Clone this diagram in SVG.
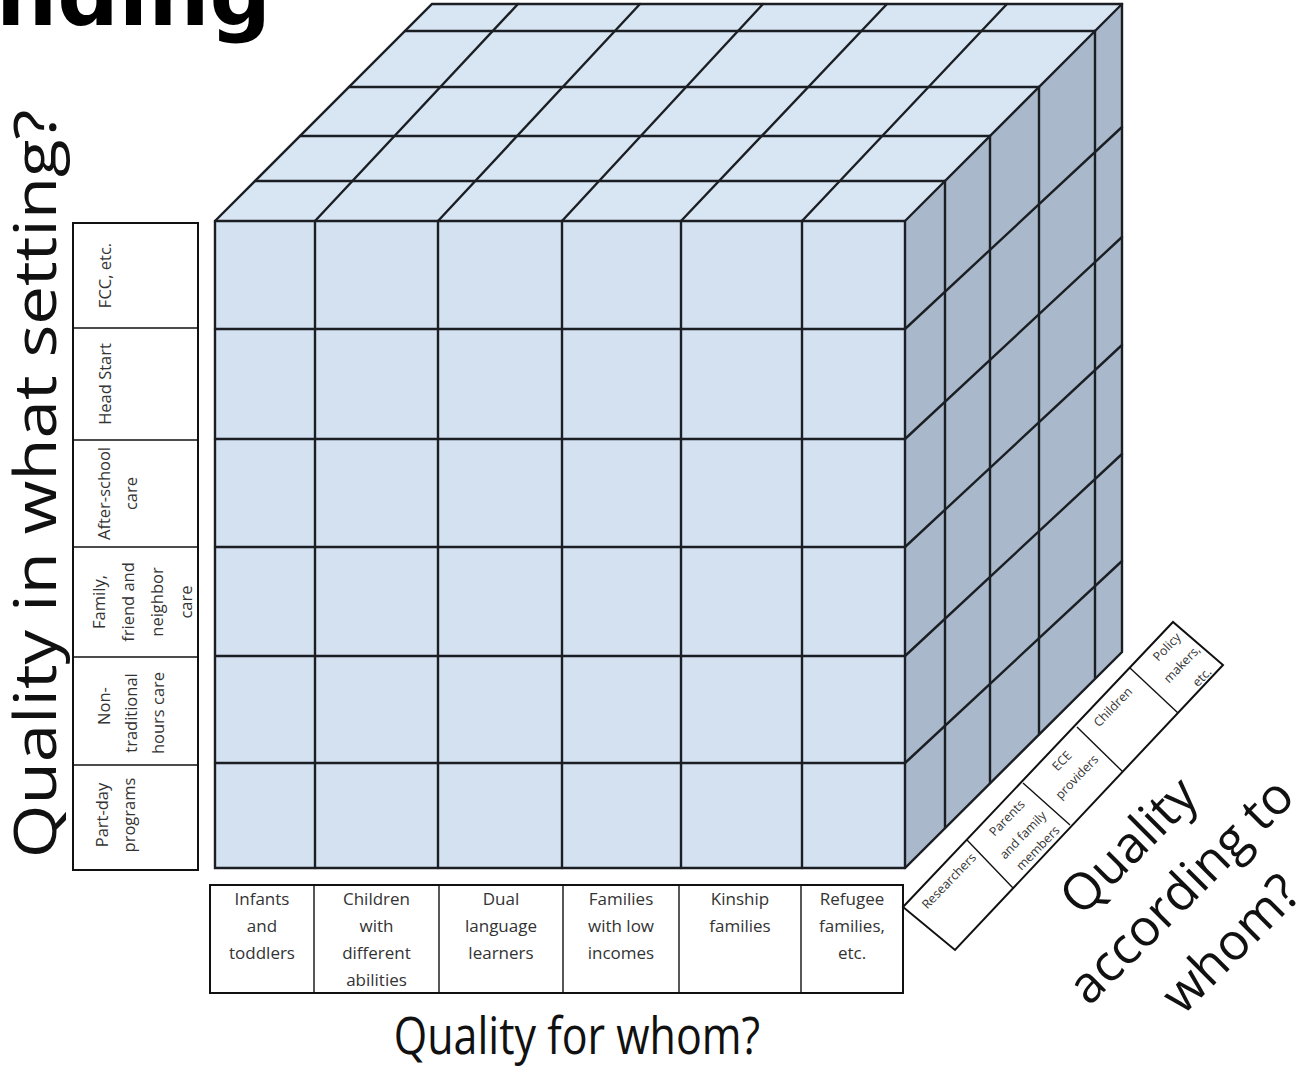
<svg xmlns="http://www.w3.org/2000/svg" width="1299" height="1081" viewBox="0 0 1299 1081">
<style>
.ln{stroke:#1b1f24;stroke-width:2.4;fill:none;stroke-linecap:round}
.box{stroke:#111;stroke-width:2;fill:#fff}
.thin{stroke:#111;stroke-width:1.4;fill:none}
.lbl{font-family:"Open Sans","Noto Sans",sans-serif;font-size:17px;fill:#333;text-anchor:middle}
.vl{font-family:"Open Sans","Noto Sans",sans-serif;font-size:16.5px;fill:#333;text-anchor:middle}
.sl{font-family:"Open Sans","Noto Sans",sans-serif;font-size:12.5px;fill:#333;text-anchor:middle}
.big{font-family:"Open Sans","Noto Sans",sans-serif;fill:#111;text-anchor:middle}
</style>
<rect width="1299" height="1081" fill="#fff"/>
<g id="title"><text x="-4" y="25" font-family="DejaVu Sans" font-weight="bold" font-size="86" fill="#000">nding</text></g>
<g id="cube">
<polygon points="215,221 905,221 1122,4 432,4" fill="#d8e5f3"/>
<polygon points="905,221 1122,4 1122,652 905,868" fill="#a9b8ca"/>
<rect x="215" y="221" width="690" height="647" fill="#d3e1f1"/>
<g class="ln">
<line x1="315" y1="221" x2="315" y2="868"/><line x1="438" y1="221" x2="438" y2="868"/><line x1="562" y1="221" x2="562" y2="868"/><line x1="681" y1="221" x2="681" y2="868"/><line x1="802" y1="221" x2="802" y2="868"/>
<line x1="215" y1="329" x2="905" y2="329"/><line x1="215" y1="439" x2="905" y2="439"/><line x1="215" y1="547" x2="905" y2="547"/><line x1="215" y1="656" x2="905" y2="656"/><line x1="215" y1="763" x2="905" y2="763"/>
<line x1="255" y1="181" x2="945" y2="181"/><line x1="300" y1="136" x2="990" y2="136"/><line x1="349" y1="87" x2="1039" y2="87"/><line x1="405" y1="31" x2="1095" y2="31"/>
<line x1="315" y1="221" x2="518" y2="4"/><line x1="438" y1="221" x2="640" y2="4"/><line x1="562" y1="221" x2="763" y2="4"/><line x1="681" y1="221" x2="887" y2="4"/><line x1="802" y1="221" x2="1007" y2="4"/>
<line x1="945" y1="181" x2="945" y2="828"/><line x1="990" y1="136" x2="990" y2="783"/><line x1="1039" y1="87" x2="1039" y2="734"/><line x1="1095" y1="31" x2="1095" y2="678"/>
<line x1="905" y1="329" x2="1122" y2="127"/><line x1="905" y1="439" x2="1122" y2="237"/><line x1="905" y1="547" x2="1122" y2="345"/><line x1="905" y1="656" x2="1122" y2="454"/><line x1="905" y1="763" x2="1122" y2="561"/>
<polygon points="215,221 432,4 1122,4 1122,652 905,868 215,868"/>
<polyline points="215,221 905,221 905,868"/><line x1="905" y1="221" x2="1122" y2="4"/>
</g>
</g>
<g id="setting-labels">
<rect class="box" x="73" y="223" width="125" height="647"/>
<g class="thin"><line x1="73" y1="328" x2="198" y2="328"/><line x1="73" y1="440" x2="198" y2="440"/><line x1="73" y1="547" x2="198" y2="547"/><line x1="73" y1="657" x2="198" y2="657"/><line x1="73" y1="765" x2="198" y2="765"/></g>
<g id="s-fcc"><text class="vl" transform="translate(111,275.5) rotate(-90)">FCC, etc.</text></g>
<g id="s-headstart"><text class="vl" transform="translate(111,384) rotate(-90)">Head Start</text></g>
<g id="s-afterschool"><text class="vl" transform="translate(110,493.5) rotate(-90)">After-school</text><text class="vl" transform="translate(137,493.5) rotate(-90)">care</text></g>
<g id="s-ffn"><text class="vl" transform="translate(105,602) rotate(-90)">Family,</text><text class="vl" transform="translate(134,602) rotate(-90)">friend and</text><text class="vl" transform="translate(163,602) rotate(-90)">neighbor</text><text class="vl" transform="translate(192,602) rotate(-90)">care</text></g>
<g id="s-nontrad"><text class="vl" transform="translate(110,706) rotate(-90)">Non-</text><text class="vl" transform="translate(137,713) rotate(-90)">traditional</text><text class="vl" transform="translate(164,713) rotate(-90)">hours care</text></g>
<g id="s-partday"><text class="vl" transform="translate(108,815) rotate(-90)">Part-day</text><text class="vl" transform="translate(135,815) rotate(-90)">programs</text></g>
</g>
<g id="whom-labels">
<rect class="box" x="210" y="885" width="693" height="108"/>
<g class="thin"><line x1="314" y1="885" x2="314" y2="993"/><line x1="439" y1="885" x2="439" y2="993"/><line x1="563" y1="885" x2="563" y2="993"/><line x1="679" y1="885" x2="679" y2="993"/><line x1="801" y1="885" x2="801" y2="993"/></g>
<g id="w-infants"><text class="lbl" x="262" y="905">Infants</text><text class="lbl" x="262" y="932">and</text><text class="lbl" x="262" y="959">toddlers</text></g>
<g id="w-abilities"><text class="lbl" x="376.5" y="905">Children</text><text class="lbl" x="376.5" y="932">with</text><text class="lbl" x="376.5" y="959">different</text><text class="lbl" x="376.5" y="986">abilities</text></g>
<g id="w-dll"><text class="lbl" x="501" y="905">Dual</text><text class="lbl" x="501" y="932">language</text><text class="lbl" x="501" y="959">learners</text></g>
<g id="w-lowinc"><text class="lbl" x="621" y="905">Families</text><text class="lbl" x="621" y="932">with low</text><text class="lbl" x="621" y="959">incomes</text></g>
<g id="w-kinship"><text class="lbl" x="740" y="905">Kinship</text><text class="lbl" x="740" y="932">families</text></g>
<g id="w-refugee"><text class="lbl" x="852" y="905">Refugee</text><text class="lbl" x="852" y="932">families,</text><text class="lbl" x="852" y="959">etc.</text></g>
</g>
<g id="according-labels">
<polygon class="box" points="903,907 1173,622 1223,665 955,950"/>
<g class="thin"><line x1="967" y1="840" x2="1013" y2="888"/><line x1="1023" y1="783" x2="1070" y2="825"/><line x1="1077" y1="727" x2="1123" y2="772"/><line x1="1130" y1="668" x2="1178" y2="713"/></g>
<g id="a-researchers"><text class="sl" transform="translate(952,884) rotate(-46)">Researchers</text></g>
<g id="a-parents"><text class="sl" transform="translate(1010,821) rotate(-46)">Parents</text><text class="sl" transform="translate(1026,838) rotate(-46)">and family</text><text class="sl" transform="translate(1041,851) rotate(-46)">members</text></g>
<g id="a-ece"><text class="sl" transform="translate(1065,764) rotate(-46)">ECE</text><text class="sl" transform="translate(1080,780) rotate(-46)">providers</text></g>
<g id="a-children"><text class="sl" transform="translate(1116,710) rotate(-46)">Children</text></g>
<g id="a-policy"><text class="sl" transform="translate(1170,650) rotate(-46)">Policy</text><text class="sl" transform="translate(1185,667) rotate(-46)">makers,</text><text class="sl" transform="translate(1205,680) rotate(-46)">etc.</text></g>
</g>
<g id="axis-titles">
<text class="big" font-size="59" transform="translate(56,484) scale(1,1.17) rotate(-90)">Quality in what setting?</text>
<text class="big" font-size="43" transform="translate(577,1054) scale(1,1.18)">Quality for whom?</text>
<text class="big" font-size="51" transform="translate(1141,858) rotate(-45)">Quality</text>
<text class="big" font-size="51" transform="translate(1193,903) rotate(-45)">according to</text>
<text class="big" font-size="51" transform="translate(1243,956) rotate(-45)">whom?</text>
</g>
</svg>
